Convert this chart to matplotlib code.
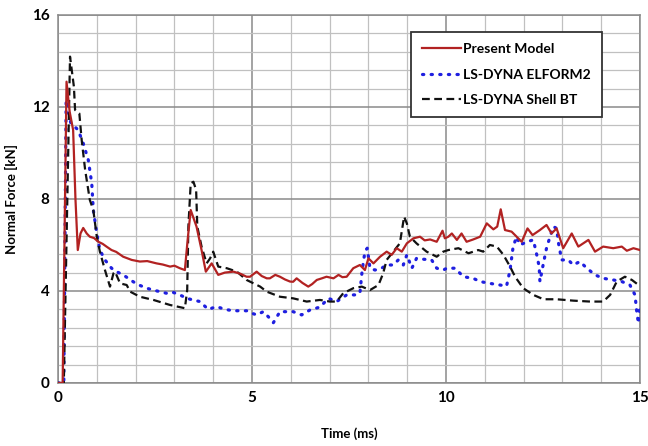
import numpy as np
import matplotlib
matplotlib.use("Agg")
import matplotlib.pyplot as plt
from matplotlib.ticker import MultipleLocator

plt.rcParams['font.family'] = ['Lato', 'DejaVu Sans']

# Present Model
red_x = [0, 0.12, 0.22, 0.30, 0.39, 0.45, 0.51, 0.58, 0.65, 0.74, 0.82, 0.93, 1.04, 1.15, 1.25, 1.38,
         1.5, 1.68, 1.9, 2.11, 2.3, 2.54, 2.7, 2.89, 3.0, 3.14, 3.27, 3.34, 3.42, 3.57, 3.70, 3.81,
         3.96, 4.13, 4.3, 4.52, 4.7, 4.86, 4.95, 5.12, 5.25, 5.38, 5.46, 5.6, 5.72, 5.85, 5.98, 6.06,
         6.15, 6.3, 6.45, 6.55, 6.67, 6.8, 6.92, 7.10, 7.23, 7.33, 7.44, 7.61, 7.78, 7.91, 8.0, 8.13,
         8.30, 8.47, 8.60, 8.73, 8.86, 8.99, 9.16, 9.33, 9.45, 9.59, 9.76, 9.91, 9.97, 10.06, 10.15,
         10.28, 10.40, 10.53, 10.70, 10.88, 11.05, 11.22, 11.32, 11.41, 11.52, 11.69, 11.95, 12.10,
         12.23, 12.42, 12.59, 12.72, 12.85, 13.02, 13.24, 13.41, 13.67, 13.84, 14.05, 14.31, 14.53,
         14.66, 14.83, 15.0]
red_y = [0, 0, 13.1, 11.8, 11.0, 8.0, 5.78, 6.5, 6.74, 6.5, 6.36, 6.3, 6.14, 6.05, 5.93, 5.78,
         5.7, 5.49, 5.35, 5.28, 5.3, 5.2, 5.15, 5.06, 5.1, 4.99, 4.91, 6.2, 7.52, 6.8, 5.78, 4.84,
         5.2, 4.7, 4.8, 4.84, 4.75, 4.62, 4.62, 4.84, 4.65, 4.55, 4.55, 4.7, 4.62, 4.5, 4.41, 4.4,
         4.55, 4.35, 4.19, 4.3, 4.48, 4.55, 4.62, 4.55, 4.70, 4.6, 4.62, 4.99, 5.13, 4.91, 5.42, 5.2,
         5.49, 5.71, 5.57, 5.86, 5.71, 6.07, 6.29, 6.36, 6.2, 6.24, 6.14, 6.62, 6.29, 6.36, 6.5,
         6.22, 6.5, 6.14, 6.24, 6.36, 6.94, 6.68, 6.8, 7.55, 6.65, 6.58, 6.14, 6.72,
         6.43, 6.65, 6.87, 6.5, 6.72, 5.86, 6.5, 5.93, 6.22, 5.71, 5.93, 5.86, 5.93,
         5.75, 5.86, 5.78]

# LS-DYNA ELFORM2
blue_x = [0, 0.15, 0.21, 0.33, 0.52, 0.65, 0.78, 0.87, 0.91, 1.0, 1.08, 1.21, 1.38, 1.51, 1.68, 1.94,
          2.1, 2.29, 2.45, 2.63, 2.80, 2.95, 3.14, 3.32, 3.5, 3.66, 3.87, 4.09, 4.3, 4.52, 4.7, 4.86,
          5.0, 5.12, 5.29, 5.42, 5.55, 5.72, 5.9, 6.06, 6.28, 6.49, 6.75, 6.97, 7.18, 7.44, 7.65, 7.78,
          7.84, 7.91, 7.97, 8.04, 8.17, 8.34, 8.47, 8.64, 8.77, 8.90, 8.99, 9.12, 9.24, 9.42, 9.63,
          9.76, 9.93, 10.02, 10.23, 10.45, 10.70, 10.88, 11.13, 11.39, 11.56, 11.65, 11.73, 11.82,
          11.91, 12.08, 12.25, 12.33, 12.40, 12.42, 12.51, 12.59, 12.68, 12.77, 12.85, 12.90, 12.98,
          13.15, 13.28, 13.45, 13.63, 13.84, 14.05, 14.31, 14.53, 14.74, 14.87, 14.92, 14.96, 15.0]
blue_y = [0, 0, 12.3, 11.3, 11.0, 10.42, 9.7, 8.68, 7.52, 6.5, 5.78, 5.35, 4.99, 4.84, 4.7, 4.4,
          4.25, 4.12, 4.04, 3.97, 3.9, 3.95, 3.83, 3.68, 3.6, 3.54, 3.2, 3.32, 3.2, 3.14, 3.14, 3.14,
          3.03, 2.96, 3.1, 2.88, 2.62, 3.1, 3.1, 3.1, 2.96, 3.17, 3.3, 3.68, 3.54, 3.83, 3.83, 3.9,
          4.91, 5.71, 5.86, 4.99, 4.91, 4.99, 5.13, 5.13, 5.35, 5.13, 5.57, 4.99, 5.42, 5.38, 5.35,
          4.99, 4.91, 4.99, 4.99, 4.62, 4.55, 4.41, 4.33, 4.26, 4.21, 4.91, 5.93, 6.36,
          6.0, 6.14, 6.22, 5.64, 5.06, 4.41, 5.2, 5.86, 6.36, 6.8, 6.72, 6.07, 5.35,
          5.35, 5.13, 5.28, 4.99, 4.7, 4.55, 4.48, 4.41, 4.26, 3.83, 3.03, 2.59, 3.4]

# LS-DYNA Shell BT
black_x = [0, 0.15, 0.31, 0.41, 0.44, 0.55, 0.61, 0.70, 0.82, 0.91, 1.0, 1.08, 1.21, 1.34, 1.43, 1.47,
           1.60, 1.77, 1.86, 2.11, 2.46, 2.89, 3.27, 3.33, 3.36, 3.42, 3.49, 3.56, 3.59, 3.70, 3.83,
           3.92, 4.0, 4.13, 4.35, 4.61, 4.86, 5.21, 5.38, 5.72, 6.06, 6.41, 6.75, 7.01, 7.18, 7.35,
           7.61, 7.83, 8.04, 8.26, 8.38, 8.47, 8.64, 8.81, 8.92, 8.99, 9.07, 9.24, 9.5, 9.76, 9.93,
           10.06, 10.32, 10.58, 10.83, 10.96, 11.13, 11.31, 11.48, 11.65, 11.78, 11.99, 12.25, 12.51,
           12.85, 13.28, 13.71, 14.05, 14.23, 14.40, 14.61, 14.79, 15.0]
black_y = [0, 0, 14.19, 12.88, 11.87, 11.72, 10.57, 9.26, 7.96, 7.52, 6.36, 5.71, 4.91, 4.19, 4.77, 4.84,
           4.33, 4.26, 3.97, 3.75, 3.61, 3.39, 3.25, 4.04, 6.8, 8.68, 8.75, 8.39, 6.8, 5.93, 5.2,
           5.42, 5.71, 5.06, 4.99, 4.84, 4.48, 4.19, 3.97, 3.75, 3.68, 3.54, 3.61, 3.54, 3.54, 3.9,
           4.12, 4.19, 4.04, 4.26, 4.77, 5.35, 5.71, 6.07, 7.23, 6.94, 6.36, 6.07, 5.71, 5.49, 5.71,
           5.78, 5.86, 5.64, 5.78, 5.71, 6.0, 5.93, 5.57, 5.06, 4.62, 4.12, 3.83, 3.64,
           3.64, 3.58, 3.54, 3.54, 3.83, 4.41, 4.62, 4.48, 4.21]

fig = plt.figure(figsize=(6.48, 4.46), dpi=100)
ax = fig.add_axes([0.0895, 0.1413, 0.8982, 0.8251])

ax.plot(red_x, red_y, color='#b22222', lw=1.6, label='Present Model', zorder=4)
ax.plot(blue_x, blue_y, color='#1f1fe0', lw=2.3, ls=(0, (0.4, 2.3)), dash_capstyle='round',
        label='LS-DYNA ELFORM2', zorder=3)
ax.plot(black_x, black_y, color='#111111', lw=1.6, ls=(0, (3.5, 2)), label='LS-DYNA Shell BT', zorder=3)

ax.set_xlim(0, 15)
ax.set_ylim(0, 16)
ax.xaxis.set_major_locator(MultipleLocator(5))
ax.xaxis.set_minor_locator(MultipleLocator(1))
ax.yaxis.set_major_locator(MultipleLocator(4))
ax.yaxis.set_minor_locator(MultipleLocator(0.8))
ax.grid(which='minor', color='#c0c0c0', lw=0.9)
ax.grid(which='major', color='#8a8a8a', lw=1.1)
ax.set_axisbelow(True)
ax.tick_params(which='both', length=0, labelsize=11, pad=6)
for lab in ax.get_xticklabels() + ax.get_yticklabels():
    lab.set_fontweight('bold')
for s in ax.spines.values():
    s.set_color('#8a8a8a')
    s.set_linewidth(1.1)

ax.set_xlabel('Time (ms)', fontsize=9.5, fontweight='bold', labelpad=16)
ax.set_ylabel('Normal Force [kN]', fontsize=9.5, fontweight='bold', labelpad=10)

leg = ax.legend(loc='upper left', bbox_to_anchor=(0.595, 0.972), fancybox=False, framealpha=1,
                edgecolor='#333333', handlelength=2.8, handletextpad=0.1, borderpad=0.8,
                labelspacing=0.95, prop={'weight': 'bold', 'size': 10})
leg.get_frame().set_linewidth(1.3)

fig.savefig('out.png', dpi=100)
